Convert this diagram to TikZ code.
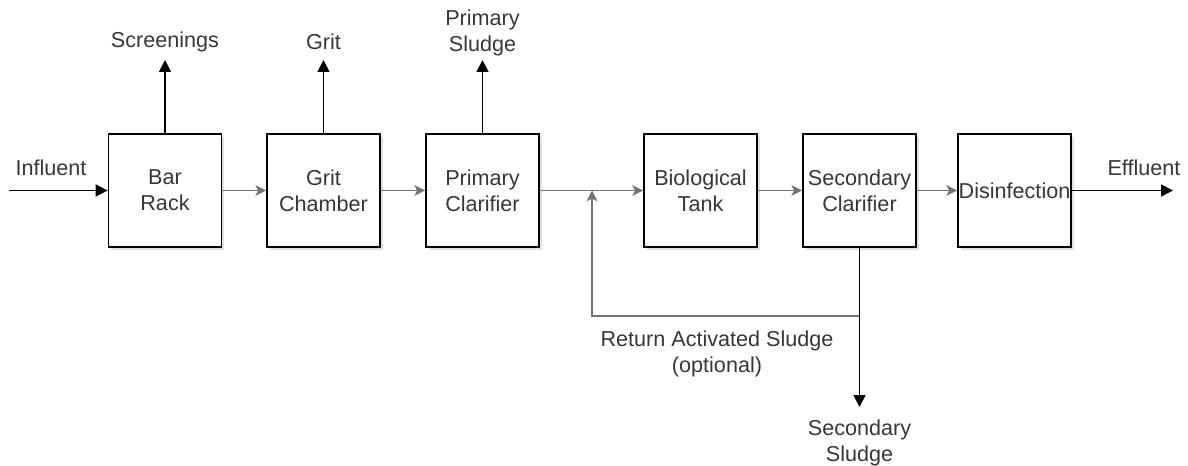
\documentclass[tikz,border=0pt]{standalone}
\usepackage{fontspec}
\setmainfont{Liberation Sans}
\usetikzlibrary{arrows.meta,shadows}
\definecolor{flowgray}{RGB}{115,115,115}
\definecolor{txtgray}{RGB}{55,55,55}
\begin{document}
\begin{tikzpicture}[x=0.75pt,y=-0.75pt,
  every node/.style={font=\fontsize{16.2}{19.5}\selectfont, text=txtgray, align=center},
  procbox/.style={draw=black, line width=1.3pt, fill=white, minimum width=84.75pt, minimum height=84.75pt, inner sep=0pt,
    drop shadow={shadow xshift=2pt, shadow yshift=-2pt, fill=black!12, opacity=1}},
  lbl/.style={inner sep=0pt},
  grayflow/.style={draw=flowgray, line width=1.3pt, -{Stealth[length=8pt,width=8pt,inset=2pt]}},
  blackflow/.style={draw=black, line width=1.3pt, -{Triangle[length=9pt,width=9pt]}}]
\useasboundingbox (0,0) rectangle (1188,466);

\node[procbox] (bar) at (165,190.5) {Bar\\Rack};
\node[procbox] (grit) at (323.5,190.5) {Grit\\Chamber};
\node[procbox] (prim) at (482.5,190.5) {Primary\\Clarifier};
\node[procbox] (bio) at (700.5,190.5) {Biological\\Tank};
\node[procbox] (sec) at (859.5,190.5) {Secondary\\Clarifier};
\node[procbox] (dis) at (1014.5,190.5) {Disinfection};

\node[lbl] (linf) at (51,168) {Influent};
\node[lbl] (lscr) at (165,42) {Screenings};
\node[lbl] (lgrit) at (323.5,42) {Grit};
\node[lbl] (lps) at (482.5,32.5) {Primary\\Sludge};
\node[lbl] (lras) at (717,353.5) {Return Activated Sludge\\(optional)};
\node[lbl] (lss) at (859.5,442.5) {Secondary\\Sludge};
\node[lbl] (leff) at (1144,168) {Effluent};

\coordinate (inf) at (9,190.5);
\coordinate (scrtip) at (165,60);
\coordinate (grittip) at (323.5,60);
\coordinate (pstip) at (482.5,60);
\coordinate (ssbend) at (859.5,316);
\coordinate (sstip) at (859.5,407);
\coordinate (rasleft) at (592,316);
\coordinate (rasjoin) at (592,190.5);
\coordinate (efftip) at (1173,190.5);

\draw[blackflow] (inf) -- (bar.west);
\draw[blackflow] (bar.north) -- (scrtip);
\draw[blackflow] (grit.north) -- (grittip);
\draw[blackflow] (prim.north) -- (pstip);

\draw[grayflow] (bar.east) -- (grit.west);
\draw[grayflow] (grit.east) -- (prim.west);
\draw[grayflow] (prim.east) -- (bio.west);
\draw[grayflow] (bio.east) -- (sec.west);
\draw[grayflow] (sec.east) -- (dis.west);

\draw[grayflow] (ssbend) -- (rasleft) -- (rasjoin);
\draw[blackflow] (sec.south) -- (sstip);
\draw[blackflow] (dis.east) -- (efftip);
\end{tikzpicture}
\end{document}
